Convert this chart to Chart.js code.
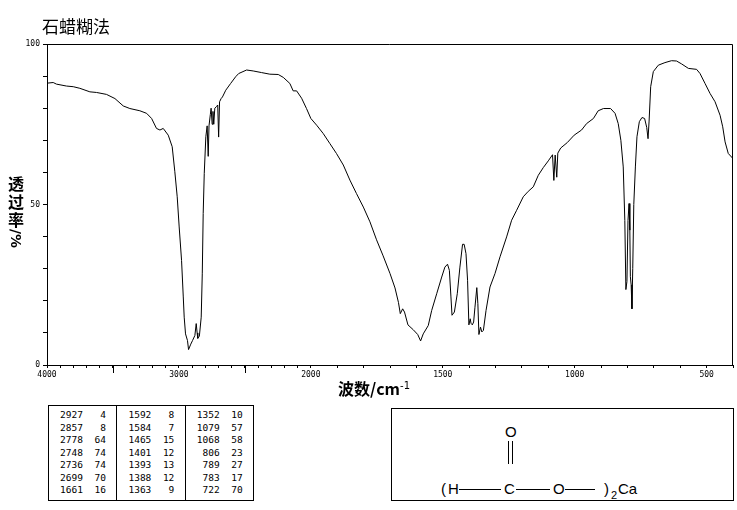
<!DOCTYPE html>
<html>
<head>
<meta charset="utf-8">
<script src="https://cdn.jsdelivr.net/npm/chart.js@4.4.1/dist/chart.umd.min.js"></script>
<style>
  body { margin: 0; background: #fff; }
  #page { position: relative; width: 737px; height: 510px; overflow: hidden; font-family: "Noto Sans CJK SC", "DejaVu Sans", sans-serif; color: #000; }
  #chartBox { position: absolute; left: 0; top: 0; width: 737px; height: 400px; }
  #title { position: absolute; left: 42px; top: 15px; font-size: 17px; line-height: 22px; }
  #ylab { position: absolute; left: 7px; top: 174px; width: 18px; font-size: 16px; font-weight: bold; line-height: 18px; text-align: center; }
  #ylab .rot { display: inline-block; writing-mode: vertical-rl; font-family: "DejaVu Sans", sans-serif; font-size: 14px; line-height: 18px; margin-top: 1px; }
  #xlab { position: absolute; left: 338px; top: 376px; font-size: 16px; font-weight: bold; line-height: 20px; }
  #xlab sup { font-size: 10px; vertical-align: 6px; font-weight: normal; font-family: "DejaVu Sans", sans-serif; }
  #peaks { position: absolute; left: 48px; top: 405px; width: 206px; height: 96px; border: 1px solid #000; box-sizing: border-box; display: flex; }
  #peaks .col { flex: 1; border-right: 1px solid #000; padding: 3px 0 0 0; }
  #peaks .col:last-child { border-right: none; }
  #peaks .row { display: flex; height: 12.5px; font-family: "DejaVu Sans Mono", monospace; font-size: 9.5px; line-height: 12px; }
  #peaks .wn { width: 34px; text-align: right; }
  #peaks .t { width: 23px; text-align: right; }
  #struct { position: absolute; left: 391px; top: 408px; width: 343px; height: 93px; border: 1px solid #000; box-sizing: border-box; font-family: "Liberation Sans", Arial, sans-serif; font-size: 15px; }
  #struct span { position: absolute; line-height: 16px; }
  #struct .bond { position: absolute; height: 0; border-top: 1px solid #000; }
  #struct .vbond { position: absolute; width: 0; border-left: 1px solid #000; }
</style>
</head>
<body>
<div id="page">
  <div id="chartBox"><canvas id="irChart" width="737" height="400"></canvas></div>
  <div id="title">石蜡糊法</div>
  <div id="ylab">透<br>过<br>率<br><span class="rot">/%</span></div>
  <div id="xlab">波数/cm<sup>-1</sup></div>
  <div id="peaks"></div>
  <div id="struct">
    <span style="left:113px;top:15px;">O</span>
    <div class="vbond" style="left:116px;top:32px;height:23px;"></div>
    <div class="vbond" style="left:120px;top:32px;height:23px;"></div>
    <span style="left:49px;top:72px;">(</span>
    <span style="left:56px;top:72px;">H</span>
    <div class="bond" style="left:67px;top:80px;width:42px;"></div>
    <span style="left:112px;top:72px;">C</span>
    <div class="bond" style="left:124px;top:80px;width:34px;"></div>
    <span style="left:161px;top:72px;">O</span>
    <div class="bond" style="left:173px;top:80px;width:30px;"></div>
    <span style="left:212px;top:72px;">)</span>
    <span style="left:219px;top:78px;font-size:11px;">2</span>
    <span style="left:226px;top:72px;">Ca</span>
  </div>
</div>

<script>
// ====== DATA ======
// wavenumber (cm-1) and transmittance (%)
const WAVENUMBERS = [
  4000, 3953, 3928, 3852, 3801, 3751, 3675, 3624, 3549, 3485,
  3422, 3372, 3296, 3245, 3207, 3170, 3144, 3119, 3081, 3051,
  3031, 3013, 2998, 2980, 2967, 2960, 2950, 2935, 2927, 2910,
  2897, 2879, 2869, 2862, 2857, 2845, 2831, 2823, 2816, 2808,
  2796, 2786, 2778, 2772, 2762, 2756, 2748, 2742, 2736, 2728,
  2715, 2706, 2699, 2692, 2680, 2670, 2645, 2608, 2570, 2547,
  2487, 2437, 2374, 2311, 2247, 2209, 2159, 2134, 2108, 2070,
  2033, 2000, 1978, 1953, 1928, 1903, 1877, 1852, 1827, 1801,
  1776, 1751, 1726, 1700, 1681, 1668, 1661, 1652, 1645, 1632,
  1612, 1595, 1584, 1574, 1555, 1542, 1523, 1504, 1492, 1482,
  1475, 1469, 1465, 1456, 1445, 1435, 1425, 1419, 1412, 1406,
  1401, 1396, 1393, 1388, 1383, 1378, 1371, 1367, 1363, 1357,
  1352, 1346, 1336, 1321, 1302, 1283, 1258, 1239, 1220, 1195,
  1176, 1157, 1138, 1119, 1100, 1084, 1079, 1074, 1068, 1064,
  1053, 1028, 1002, 974, 955, 929, 911, 891, 864, 847,
  835, 825, 816, 810, 806, 802, 798, 794, 791, 789,
  786, 783, 780, 776, 770, 764, 755, 745, 735, 727,
  722, 718, 712, 702, 683, 658, 633, 614, 595, 569,
  538, 525, 506, 487, 468, 449, 439, 430, 418, 400
];
const TRANSMITTANCE = [
  87.8, 88.0, 87.5, 86.9, 86.7, 86.2, 85.1, 84.9, 84.3, 83.0,
  80.7, 79.9, 79.2, 78.4, 76.8, 73.7, 73.2, 73.7, 71.6, 68.0,
  60.2, 52.4, 43.0, 32.6, 21.2, 14.9, 9.7, 7.6, 4.8, 6.5,
  7.6, 9.2, 12.9, 10.0, 8.3, 9.0, 14.9, 28.4, 47.2, 59.7,
  71.1, 74.5, 65.0, 74.5, 78.0, 80.0, 75.0, 79.0, 75.0, 80.0,
  80.5, 81.0, 71.0, 82.0, 83.0, 83.5, 85.6, 87.7, 89.8, 90.8,
  91.9, 91.6, 91.1, 90.6, 90.5, 89.6, 87.7, 85.4, 85.4, 83.1,
  79.9, 76.8, 74.7, 72.1, 69.0, 65.9, 62.3, 57.6, 53.4, 49.2,
  44.6, 39.0, 34.0, 28.5, 24.0, 19.5, 16.0, 17.5, 16.5, 12.5,
  11.0, 9.5, 7.5, 9.7, 12.3, 17.0, 22.2, 27.4, 30.5, 31.4,
  29.5, 21.2, 15.5, 16.5, 22.2, 30.5, 37.6, 37.6, 34.7, 26.4,
  12.5, 14.4, 13.0, 12.5, 13.4, 18.0, 24.1, 19.1, 9.5, 11.8,
  10.3, 10.8, 17.0, 24.3, 28.5, 33.7, 39.9, 45.1, 48.2, 52.4,
  54.1, 55.5, 59.1, 61.5, 63.6, 65.5, 57.5, 65.4, 58.5, 66.0,
  67.6, 69.3, 71.6, 73.2, 75.2, 76.8, 79.2, 79.9, 79.9, 78.4,
  75.2, 70.0, 61.7, 45.0, 23.5, 26.0, 45.0, 50.3, 42.0, 27.5,
  25.0, 17.5, 30.0, 50.0, 61.7, 71.1, 75.8, 77.1, 76.8, 74.0,
  70.5, 76.0, 86.7, 91.4, 93.4, 94.2, 94.8, 94.7, 93.8, 92.4,
  92.1, 90.8, 87.7, 84.6, 82.0, 77.8, 74.2, 69.5, 65.9, 64.3
];

// x ticks every 100 cm-1, labels only on these
const X_TICKS = [];
for (let w = 4000; w >= 400; w -= 100) X_TICKS.push(w);
const X_LABELS = [4000, 3000, 2000, 1500, 1000, 500];
const Y_LABELS = [0, 50, 100];

// peak table (three columns of seven rows)
const PEAK_WN = [2927, 2857, 2778, 2748, 2736, 2699, 1661,
                 1592, 1584, 1465, 1401, 1393, 1388, 1363,
                 1352, 1079, 1068, 806, 789, 783, 722];
const PEAK_T  = [4, 8, 64, 74, 74, 70, 16,
                 8, 7, 15, 12, 13, 12, 9,
                 10, 57, 58, 23, 27, 17, 70];

// ====== HELPERS ======

// above 2000 cm-1 the axis is drawn at half scale
function fold(w) {
  return w <= 2000 ? w : 2000 + (w - 2000) / 2;
}

class IrScale extends Chart.LinearScale {
  buildTicks() {
    this.start = this.max;
    this.end = this.min;
    return X_TICKS.map(v => ({ value: v }));
  }
  getPixelForValue(v) {
    const a = fold(this.min), b = fold(this.max);
    return this.getPixelForDecimal((fold(v) - a) / (b - a));
  }
  getValueForPixel(px) {
    const a = fold(this.min), b = fold(this.max);
    const p = a + this.getDecimalForPixel(px) * (b - a);
    return p <= 2000 ? p : 2000 + (p - 2000) * 2;
  }
}
IrScale.id = 'irscale';
IrScale.defaults = Chart.LinearScale.defaults;
Chart.register(IrScale);

// frame on top/right + long ticks at unlabelled 500s
const framePlugin = {
  id: 'frame',
  afterDraw(chart) {
    const { ctx, chartArea: a, scales } = chart;
    ctx.save();
    ctx.strokeStyle = '#000';
    ctx.lineWidth = 1;
    ctx.beginPath();
    ctx.moveTo(a.left, a.top + 0.5);
    ctx.lineTo(a.right - 0.5, a.top + 0.5);
    ctx.lineTo(a.right - 0.5, a.bottom);
    ctx.stroke();
    const xs = scales.x;
    ctx.beginPath();
    X_TICKS.forEach(v => {
      if (v % 500 === 0 && !X_LABELS.includes(v)) {
        const px = Math.round(xs.getPixelForValue(v)) + 0.5;
        ctx.moveTo(px, a.bottom);
        ctx.lineTo(px, a.bottom + 8);
      }
    });
    ctx.stroke();
    ctx.restore();
  }
};

// ====== TABLE ======
function buildPeakTable() {
  const box = document.getElementById('peaks');
  for (let c = 0; c < 3; c++) {
    const col = document.createElement('div');
    col.className = 'col';
    for (let r = 0; r < 7; r++) {
      const i = c * 7 + r;
      const row = document.createElement('div');
      row.className = 'row';
      row.innerHTML = '<span class="wn">' + PEAK_WN[i] + '</span><span class="t">' + PEAK_T[i] + '</span>';
      col.appendChild(row);
    }
    box.appendChild(col);
  }
}

// ====== CHART ======
const tickFont = { family: 'DejaVu Sans Mono', size: 8 };

new Chart(document.getElementById('irChart').getContext('2d'), {
  type: 'line',
  data: {
    datasets: [{
      data: WAVENUMBERS.map((w, i) => ({ x: w, y: TRANSMITTANCE[i] })),
      borderColor: '#000',
      borderWidth: 1,
      pointRadius: 0,
      tension: 0,
      fill: false
    }]
  },
  options: {
    responsive: false,
    animation: false,
    layout: { padding: { top: 44, right: 4, left: 0, bottom: 0 } },
    plugins: { legend: { display: false }, tooltip: { enabled: false } },
    scales: {
      x: {
        type: 'irscale',
        min: 400,
        max: 4000,
        reverse: true,
        afterFit: s => { s.height = 35; },
        border: { color: '#000', width: 1 },
        grid: { display: true, drawOnChartArea: false, drawTicks: true, tickLength: 3, color: '#000' },
        ticks: {
          autoSkip: false,
          maxRotation: 0,
          padding: 2,
          color: '#000',
          font: tickFont,
          callback: v => X_LABELS.includes(v) ? String(v) : ''
        }
      },
      y: {
        min: 0,
        max: 100,
        afterFit: s => { s.width = 47; },
        border: { color: '#000', width: 1 },
        grid: { display: true, drawOnChartArea: false, drawTicks: true, tickLength: 4, color: '#000' },
        ticks: {
          stepSize: 10,
          padding: 3,
          color: '#000',
          font: tickFont,
          callback: v => Y_LABELS.includes(v) ? String(v) : ''
        }
      }
    }
  },
  plugins: [framePlugin]
});

buildPeakTable();
</script>
</body>
</html>
